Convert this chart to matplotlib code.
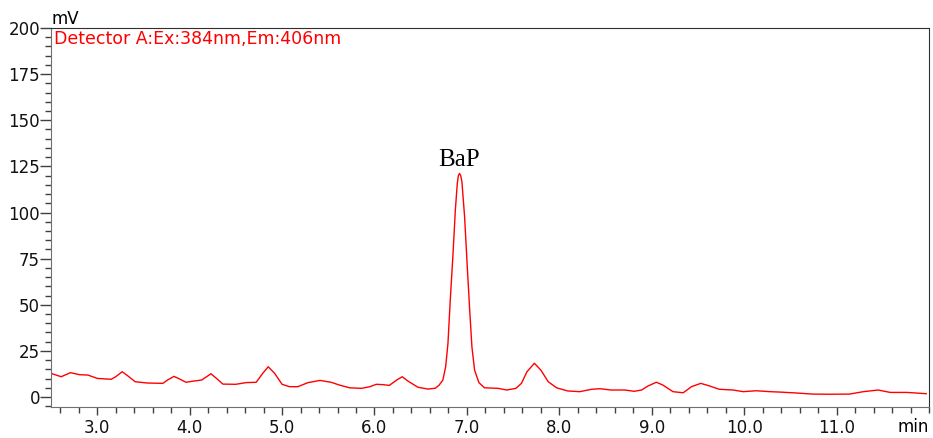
import matplotlib.pyplot as plt
from matplotlib.ticker import MultipleLocator

# retention time (min) and signal (mV)
time_min = [2.50, 2.61, 2.71, 2.81, 2.90, 3.00, 3.15, 3.20, 3.27, 3.33,
            3.41, 3.54, 3.71, 3.76, 3.83, 3.89, 3.96, 4.05, 4.13, 4.23,
            4.29, 4.36, 4.50, 4.61, 4.72, 4.79, 4.85, 4.92, 5.00, 5.08,
            5.17, 5.28, 5.41, 5.53, 5.62, 5.73, 5.86, 5.95, 6.02, 6.09,
            6.16, 6.24, 6.30, 6.36, 6.47, 6.58, 6.66, 6.70, 6.74, 6.77,
            6.795, 6.82, 6.85, 6.875, 6.896, 6.908, 6.92, 6.933, 6.946, 6.975,
            7.004, 7.03, 7.054, 7.083, 7.13, 7.19, 7.34, 7.43, 7.53, 7.59,
            7.65, 7.73, 7.80, 7.88, 7.97, 8.09, 8.22, 8.35, 8.44, 8.56,
            8.71, 8.81, 8.89, 8.96, 9.05, 9.12, 9.23, 9.34, 9.43, 9.53,
            9.62, 9.73, 9.88, 9.99, 10.13, 10.28, 10.38, 10.56, 10.74, 10.93,
            11.14, 11.29, 11.45, 11.58, 11.76, 11.97]
signal_mv = [12.8, 11.0, 13.2, 12.1, 11.9, 10.1, 9.6, 11.0, 13.7, 11.5,
             8.3, 7.6, 7.4, 9.2, 11.2, 9.8, 8.0, 8.7, 9.2, 12.6,
             10.1, 7.0, 6.9, 7.8, 8.0, 12.8, 16.4, 12.8, 6.9, 5.6,
             5.6, 7.8, 9.0, 8.0, 6.5, 5.0, 4.7, 5.6, 6.9, 6.7,
             6.3, 9.2, 11.0, 8.7, 5.3, 4.3, 4.8, 6.5, 9.2, 16.4,
             29.1, 52.6, 77.9, 101.4, 115.8, 120.0, 121.2, 120.0, 116.7, 97.7,
             70.6, 47.2, 27.3, 14.6, 7.8, 5.0, 4.7, 3.8, 4.7, 7.4,
             13.7, 18.3, 14.6, 8.3, 5.0, 3.3, 2.9, 4.2, 4.5, 3.8,
             3.8, 3.1, 3.8, 6.0, 8.0, 6.5, 2.9, 2.3, 5.6, 7.4,
             6.1, 4.2, 3.8, 2.9, 3.4, 2.9, 2.7, 2.2, 1.6, 1.5,
             1.6, 2.9, 3.8, 2.5, 2.5, 1.8]

peak_name = 'BaP'
peak_time = 6.92
peak_height = 121.2

x_ticks = [3.0, 4.0, 5.0, 6.0, 7.0, 8.0, 9.0, 10.0, 11.0]
y_ticks = [0, 25, 50, 75, 100, 125, 150, 175, 200]

fig = plt.figure(figsize=(9.33, 4.38), dpi=100)
ax = fig.add_axes([0.0547, 0.0708, 0.941, 0.8653])

ax.plot(time_min, signal_mv, color='#ff0000', linewidth=1.0)

ax.set_xlim(2.5, 12.0)
ax.set_ylim(-5.4, 200)

ax.set_xticks(x_ticks)
ax.set_xticklabels(['%.1f' % t for t in x_ticks])
ax.set_yticks(y_ticks)
ax.xaxis.set_minor_locator(MultipleLocator(0.2))
ax.yaxis.set_minor_locator(MultipleLocator(5))

ax.tick_params(axis='both', which='major', direction='out', color='#404040',
               width=1, labelsize=12)
ax.tick_params(axis='x', which='major', length=6, pad=2.5)
ax.tick_params(axis='y', which='major', length=8, pad=0)
ax.tick_params(axis='x', which='minor', length=4, color='#404040', width=1)
ax.tick_params(axis='y', which='minor', length=4, color='#404040', width=1)
for lab in ax.get_xticklabels() + ax.get_yticklabels():
    lab.set_fontfamily('DejaVu Sans')
    lab.set_color('#111111')

for side in ['left', 'bottom']:
    ax.spines[side].set_color('#707070')
for side in ['top', 'right']:
    ax.spines[side].set_color('#303030')

ax.text(0.003, 0.995, 'Detector A:Ex:384nm,Em:406nm', transform=ax.transAxes,
        color='#ff0000', fontsize=12.5, family='DejaVu Sans',
        ha='left', va='top')
ax.text(0.0, 1.0, 'mV', transform=ax.transAxes, fontsize=12,
        family='DejaVu Sans', ha='left', va='bottom')
ax.text(1.0, -0.028, 'min', transform=ax.transAxes, fontsize=12,
        family='DejaVu Sans', ha='right', va='top')

ax.annotate(peak_name, xy=(peak_time, peak_height), xytext=(0, 2),
            textcoords='offset points', ha='center', va='bottom',
            fontsize=18, family='Liberation Serif')

fig.savefig('out.png', dpi=100)
